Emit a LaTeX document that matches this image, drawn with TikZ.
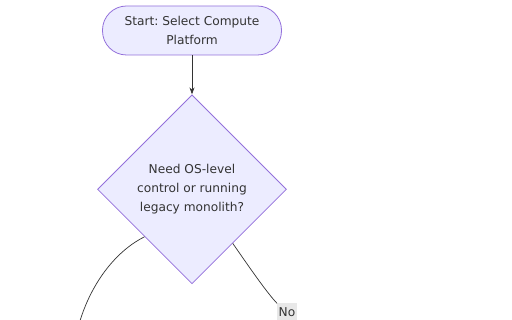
\documentclass[tikz,border=0pt]{standalone}
\usepackage{fontspec}
\setmainfont{DejaVu Sans}
\usetikzlibrary{positioning,arrows.meta,shapes.geometric}
\definecolor{nodefill}{HTML}{ECECFF}
\definecolor{nodeedge}{HTML}{9370DB}
\definecolor{ink}{HTML}{333333}
\definecolor{labelbg}{HTML}{E8E8E8}
\frenchspacing

\begin{document}
\begin{tikzpicture}[
    x=1pt, y=-1pt,
    node distance=39pt,
    txt/.style={font=\fontsize{12.2}{19}\selectfont, text=ink, align=center},
    startbox/.style={txt, draw=nodeedge, fill=nodefill, rounded corners=24pt, minimum width=179pt, minimum height=49pt, line width=0.8pt},
    decision/.style={txt, diamond, draw=nodeedge, fill=nodefill, minimum width=189pt, minimum height=189pt, inner sep=0pt, line width=0.8pt},
    arr/.style={-{Stealth[length=7pt,width=5pt]}, ink, line width=0.7pt},
    link/.style={ink, line width=0.7pt},
    edgelabel/.style={txt, fill=labelbg, inner sep=1.5pt, minimum height=17pt}
  ]
    \useasboundingbox (0,0) rectangle (512,320);

    \node[startbox] (start) at (192,30.5) {Start: Select Compute\\Platform};
    \node[decision, below=of start] (osq) {Need OS-level\\control or running\\legacy monolith?};
    \node[edgelabel] (no) at (287,312) {No};
    \coordinate (yesend) at (79,324);

    \draw[arr] (start) -- (osq);
    \draw[link] (osq.225) .. controls (118,250) and (92,280) .. (yesend);
    \draw[link] (osq.307) .. controls (243,258) and (266,292) .. (no.north west);
  \end{tikzpicture}
\end{document}
